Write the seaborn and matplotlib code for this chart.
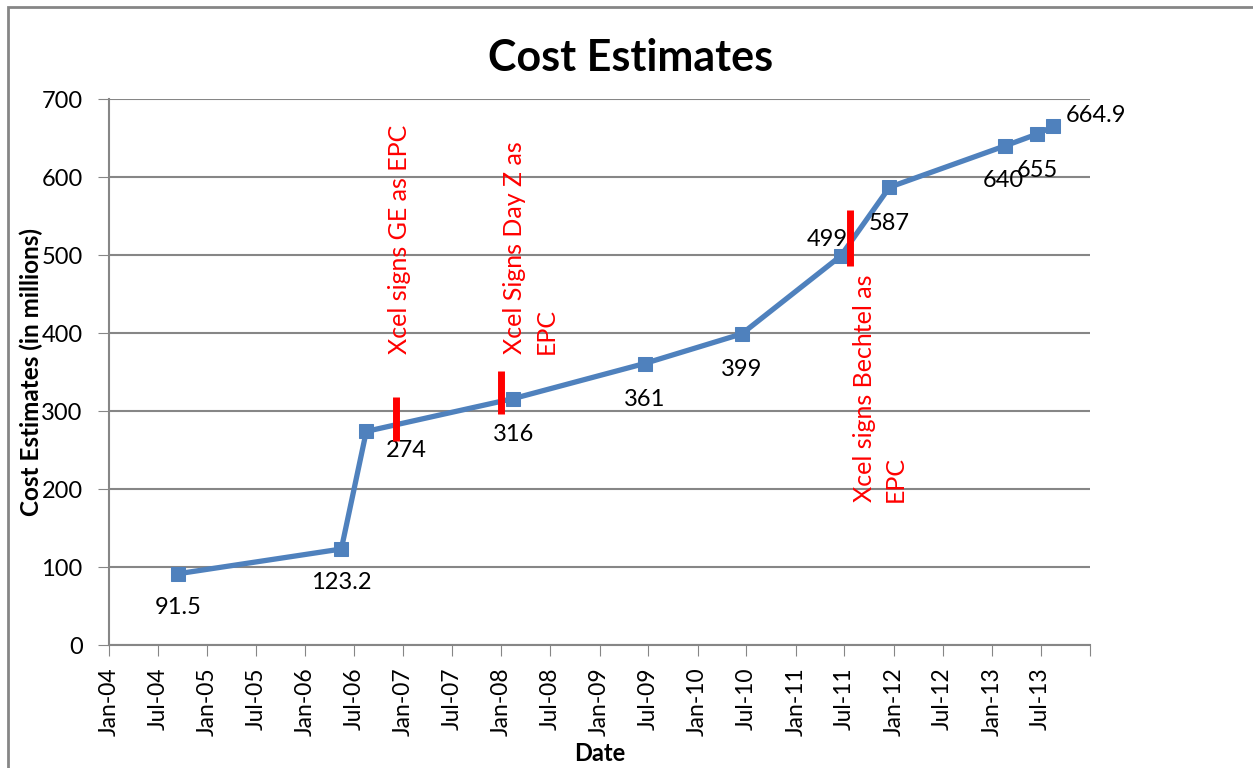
import pandas as pd
import numpy as np
import matplotlib
matplotlib.use("Agg")
import matplotlib.pyplot as plt
import matplotlib.dates as mdates
from matplotlib.patches import Rectangle
import seaborn as sns

# cost estimate points
dates = ["2004-09-14", "2006-05-15", "2006-08-16", "2008-02-14", "2009-06-17",
         "2010-06-14", "2011-06-18", "2011-12-16", "2013-02-18", "2013-06-17",
         "2013-08-16"]
costs = [91.5, 123.2, 274, 316, 361, 399, 499, 587, 640, 655, 664.9]
cost_labels = ["91.5", "123.2", "274", "316", "361", "399", "499", "587", "640", "655", "664.9"]
# label offsets (points) from each marker
label_dx = [0, 0, 29, 0, 0, 0, -10, 0, -1, 0, 31]
label_dy = [-24, -24, -14, -26, -26, -26, 12, -26, -25, -26, 8]

# contract signing events (red bars + notes)
event_dates = ["2006-12-06", "2008-01-01", "2011-07-21"]
bar_low = [262, 296, 486]
bar_high = [318, 351, 558]
event_text = ["Xcel signs GE as EPC", "Xcel Signs Day Z as\nEPC", "Xcel signs Bechtel as\nEPC"]
event_text_y = [373, 373, 183]
event_text_dx = [-6, 1, 2]

tick_dates = pd.date_range("2004-01-01", "2014-01-01", freq="6MS")
tick_labels = [d.strftime("%b-%y") for d in tick_dates[:-1]] + [""]

df = pd.DataFrame({"Date": pd.to_datetime(dates), "Cost": costs})
ev = pd.DataFrame({"Date": pd.to_datetime(event_dates), "lo": bar_low, "hi": bar_high})

sns.set_style("white")
plt.rcParams["font.family"] = ["Lato", "DejaVu Sans"]
plt.rcParams["text.color"] = "black"
plt.rcParams["xtick.color"] = "black"
plt.rcParams["ytick.color"] = "black"
plt.rcParams["axes.labelcolor"] = "black"

fig = plt.figure(figsize=(12.53, 7.68), dpi=100)
ax = fig.add_axes([0.087, 0.160, 0.783, 0.711])

blue = "#4F81BD"
sns.lineplot(data=df, x="Date", y="Cost", ax=ax, color=blue, linewidth=3.8,
             marker="s", markersize=10, markeredgecolor=blue, zorder=3)

ax.vlines(ev["Date"], ev["lo"], ev["hi"], color="red", linewidth=5, zorder=4)

for d, c, t, dx, dy in zip(df["Date"], df["Cost"], cost_labels, label_dx, label_dy):
    ax.annotate(t, (d, c), xytext=(dx, dy), textcoords="offset points",
                ha="center", va="center", fontsize=17, color="black")

for d, y, t, dx in zip(ev["Date"], event_text_y, event_text, event_text_dx):
    ax.annotate(t, (d, y), xytext=(dx, 0), textcoords="offset points",
                rotation=90, rotation_mode="anchor", ha="left", va="top",
                fontsize=18, color="red", linespacing=1.45)

ax.set_xlim(pd.Timestamp("2004-01-01"), pd.Timestamp("2014-01-01"))
ax.set_ylim(0, 700)
ax.set_yticks(range(0, 701, 100))
ax.set_xticks(tick_dates)
ax.set_xticklabels(tick_labels)
ax.tick_params(axis="x", rotation=90, labelsize=16.5, length=8, color="#868686",
               direction="out", bottom=True, pad=8)
ax.tick_params(axis="y", labelsize=17, length=8, color="#868686",
               direction="out", left=True, pad=11)
ax.yaxis.grid(True, color="#868686", linewidth=1.5)
ax.set_axisbelow(True)
for s in ["top", "right"]:
    ax.spines[s].set_visible(False)
for s in ["left", "bottom"]:
    ax.spines[s].set_color("#868686")
    ax.spines[s].set_linewidth(1.5)

ax.set_xlabel("Date", fontsize=17, fontweight="bold", labelpad=4)
ax.set_ylabel("Cost Estimates (in millions)", fontsize=17.5, fontweight="bold", labelpad=-1)
fig.text(0.503, 0.925, "Cost Estimates", ha="center", va="center", fontsize=31, fontweight="bold")

fig.patches.append(Rectangle((0.006, -0.05), 1.1, 1.041, transform=fig.transFigure,
                             fill=False, edgecolor="#868686", linewidth=2))

fig.savefig("out.png", dpi=100)
